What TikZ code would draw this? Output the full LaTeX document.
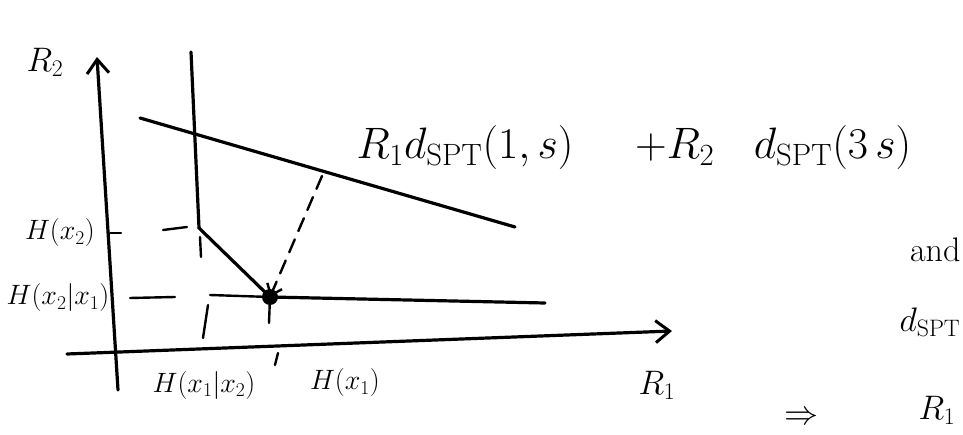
\RequirePackage{fix-cm}
\documentclass[tikz,border=0pt]{standalone}
\usetikzlibrary{arrows.meta}
\begin{document}
\begin{tikzpicture}[x=1pt, y=-1pt, line width=3.2pt, line cap=round,
  lbl/.style={font=\fontsize{28}{30}\selectfont, inner sep=1pt},
  axislbl/.style={font=\fontsize{34}{36}\selectfont, inner sep=1pt},
  eqlbl/.style={font=\fontsize{44}{46}\selectfont, inner sep=1pt, anchor=west},
  guide/.style={line width=2.4pt},
  axisarrow/.style={-{Straight Barb[length=14pt, width=22pt, line width=3pt]}}]
  \useasboundingbox (0,0) rectangle (963,435);
  \clip (0,0) rectangle (963,435);
  % axes
  \coordinate (r1start) at (67,354);
  \coordinate (r1end) at (672,331);
  \coordinate (r2start) at (118,390);
  \coordinate (r2end) at (97,57);
  \draw[axisarrow] (r1start) -- (r1end);
  \draw[axisarrow] (r2start) -- (r2end);
  \node[axislbl] (r2) at (45,62) {$R_2$};
  \node[axislbl] (r1) at (657,385) {$R_1$};
  % region boundary and the cost line
  \coordinate (top) at (191,52);
  \coordinate (kink) at (199,228);
  \coordinate (corner) at (270,297);
  \coordinate (tail) at (545,303);
  \draw (top) -- (kink) -- (corner) -- (tail);
  \fill (corner) circle[radius=8pt];
  \coordinate (costa) at (140,118);
  \coordinate (costb) at (515,227);
  \draw (costa) -- (costb);
  \node[eqlbl] (cost) at (354,148) {$R_1 d_{\mathrm{SPT}}(1,s)\hspace{1.4em}{+}R_2\hspace{0.9em}d_{\mathrm{SPT}}(3\,s)$};
  \coordinate (dashtop) at (322,176);
  \draw[guide, dash pattern=on 14pt off 9pt, -{Straight Barb[length=10pt, width=16pt, line width=2.4pt]}] (dashtop) -- (corner);
  % guides and ticks
  \draw[guide] (110,233) -- (121,233);
  \draw[guide] (163,230) -- (187,227);
  \draw[guide] (200,237) -- (201,257);
  \draw[guide] (130,298) -- (175,297);
  \draw[guide] (210,295) -- (corner);
  \draw[guide] (208,305) -- (203,338);
  \draw[guide] (corner) -- (269,323);
  \draw[guide] (278,353) -- (275,365);
  \node[lbl] (hxtwo) at (60,233) {$H(x_2)$};
  \node[lbl] (hxtwoone) at (58,298) {$H(x_2|x_1)$};
  \node[lbl] (hxonetwo) at (204,385) {$H(x_1|x_2)$};
  \node[lbl] (hxone) at (345,383) {$H(x_1)$};
  % notes at the right edge
  \node[axislbl, anchor=east] (andtxt) at (963,250) {and};
  \node[axislbl, anchor=east] (dspt) at (963,322) {$d_{\mathrm{SPT}}$};
  \node[axislbl, anchor=west] (impl) at (782,418) {$\Rightarrow$};
  \node[axislbl, anchor=east] (rone) at (958,410) {$R_1$};
\end{tikzpicture}
\end{document}
